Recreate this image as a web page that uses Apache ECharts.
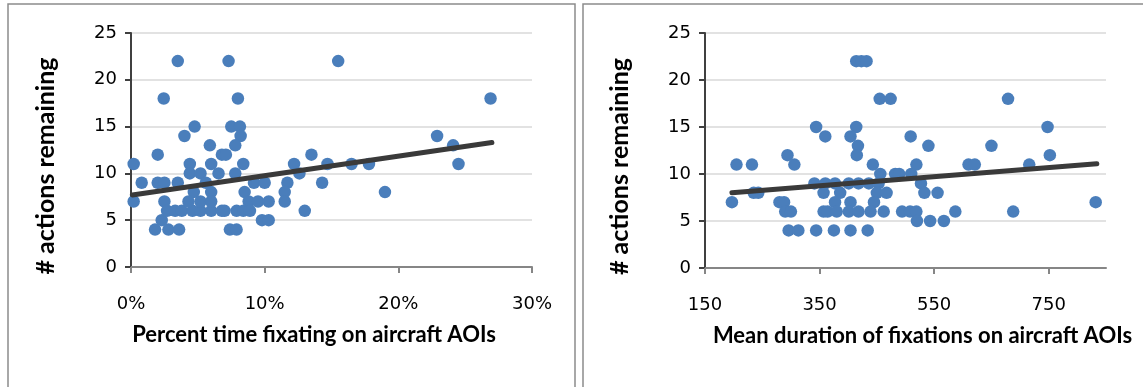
<!DOCTYPE html>
<html>
<head>
<meta charset="utf-8">
<script src="https://cdn.jsdelivr.net/npm/echarts@6/dist/echarts.min.js"></script>
<style>
html,body{margin:0;padding:0;background:#fff;}
#chart{width:1143px;height:387px;}
</style>
</head>
<body>
<div id="chart"></div>
<script>
// Left panel: percent time fixating on aircraft AOIs (%) vs # actions remaining
var pctPoints = [
  [0.2,11],[0.2,7],[0.8,9],[2.0,12],[2.0,9],[2.45,18],[2.5,9],[2.5,7],[2.3,5],
  [1.8,4],[2.8,4],[3.6,4],[2.7,6],[3.3,6],[3.8,6],[4.6,6],[5.2,6],[6.0,6],
  [3.5,22],[3.5,9],[4.0,14],[4.76,15],[4.4,11],[4.4,10],[5.2,10],[5.9,13],
  [6.0,11],[6.55,10],[5.6,9],[4.7,8],[6.0,8],[4.3,7],[5.2,7],[6.0,7],[6.8,12],
  [6.8,6],[7.3,22],[8.0,18],[7.5,15],[8.15,15],[8.2,14],[7.8,13],[7.1,12],
  [8.4,11],[7.8,10],[12.2,11],[13.5,12],[12.6,10],[9.2,9],[10.0,9],[11.7,9],
  [8.5,8],[11.5,8],[8.8,7],[9.5,7],[10.3,7],[11.5,7],[7.0,6],[7.9,6],[8.4,6],
  [8.9,6],[13.0,6],[9.8,5],[10.3,5],[7.4,4],[7.9,4],[15.5,22],[26.9,18],
  [22.9,14],[24.1,13],[24.5,11],[14.7,11],[16.5,11],[17.8,11],[14.3,9],[19.0,8]
];
var pctTrend = [[0.1,7.7],[27.0,13.3]];

// Right panel: mean duration of fixations on aircraft AOIs vs # actions remaining
var durPoints = [
  [414,22],[423,22],[432,22],
  [455,18],[474,18],[679,18],
  [344,15],[414,15],[748,15],
  [360,14],[404,14],[509,14],
  [417,13],[540,13],[650,13],
  [294,12],[415,12],[752,12],
  [205,11],[232,11],[306,11],[443,11],[519,11],[610,11],[621,11],[716,11],
  [456,10],[482,10],[489,10],[510,10],
  [341,9],[360,9],[377,9],[401,9],[418,9],[436,9],[453,9],[527,9],
  [235,8],[243,8],[357,8],[386,8],[450,8],[467,8],[533,8],[556,8],
  [197,7],[280,7],[288,7],[377,7],[404,7],[445,7],[832,7],
  [290,6],[300,6],[357,6],[364,6],[380,6],[401,6],[418,6],[439,6],[462,6],
  [494,6],[508,6],[519,6],[587,6],[688,6],
  [520,5],[543,5],[567,5],
  [296,4],[313,4],[344,4],[375,4],[404,4],[434,4]
];
var durTrend = [[197,8.0],[834,11.1]];

var yTicks = [0,5,10,15,20,25];
var pctTicks = [0,10,20,30];
var durTicks = [150,350,550,750];

var TICKFONT = 'DejaVu Sans';
var TITLEFONT = 'Lato';
var chart = echarts.init(document.getElementById('chart'));

function yAxisCfg(gridIndex){
  return {
    gridIndex: gridIndex, type:'value', min:0, max:25, interval:5,
    name:'# actions remaining', nameLocation:'middle', nameGap:73, nameRotate:90,
    nameTextStyle:{fontFamily:TITLEFONT, fontWeight:'bold', fontSize:25, color:'#000', padding:[0,32,0,0]},
    axisLine:{show:true, lineStyle:{color:'#404040', width:2}},
    axisTick:{show:true, length:6, lineStyle:{color:'#404040', width:2}},
    axisLabel:{fontFamily:TICKFONT, fontSize:18, color:'#000', margin:14},
    splitLine:{show:true, lineStyle:{color:'#d9d9d9', width:1.5}}
  };
}

chart.setOption({
  animation:false,
  backgroundColor:'#fff',
  graphic:[
    {type:'rect', shape:{x:8, y:4, width:567, height:420}, style:{fill:'none', stroke:'#8c8c8c', lineWidth:1.5}, silent:true},
    {type:'rect', shape:{x:583, y:4, width:600, height:420}, style:{fill:'none', stroke:'#8c8c8c', lineWidth:1.5}, silent:true}
  ],
  grid:[
    {left:131, top:33, width:401, height:234},
    {left:705, top:33, width:401, height:235}
  ],
  xAxis:[
    {
      gridIndex:0, type:'value', min:0, max:30, interval:10,
      name:'Percent time fixating on aircraft AOIs', nameLocation:'middle', nameGap:57,
      nameTextStyle:{fontFamily:TITLEFONT, fontWeight:'bold', fontSize:22, color:'#000', padding:[0,35,0,0]},
      axisLine:{show:true, lineStyle:{color:'#868686', width:2}},
      axisTick:{show:true, length:6, lineStyle:{color:'#868686', width:2}},
      axisLabel:{fontFamily:TICKFONT, fontSize:18, color:'#000', margin:28, formatter:'{value}%'},
      splitLine:{show:false}
    },
    {
      gridIndex:1, type:'value', min:150, max:850, interval:200,
      name:'Mean duration of fixations on aircraft AOIs', nameLocation:'middle', nameGap:57,
      nameTextStyle:{fontFamily:TITLEFONT, fontWeight:'bold', fontSize:22, color:'#000', padding:[0,0,0,34]},
      axisLine:{show:true, lineStyle:{color:'#868686', width:2}},
      axisTick:{show:true, length:6, lineStyle:{color:'#868686', width:2}, customValues:durTicks},
      axisLabel:{fontFamily:TICKFONT, fontSize:18, color:'#000', margin:28, customValues:durTicks},
      splitLine:{show:false}
    }
  ],
  yAxis:[yAxisCfg(0), yAxisCfg(1)],
  series:[
    {type:'scatter', xAxisIndex:0, yAxisIndex:0, data:pctPoints, symbolSize:12.5,
     itemStyle:{color:'#4a7ebb', opacity:1}, z:2},
    {type:'line', xAxisIndex:0, yAxisIndex:0, data:pctTrend, showSymbol:false, symbol:'none',
     lineStyle:{color:'#3a3a3a', width:5, cap:'round'}, z:3},
    {type:'scatter', xAxisIndex:1, yAxisIndex:1, data:durPoints, symbolSize:12.5,
     itemStyle:{color:'#4a7ebb', opacity:1}, z:2},
    {type:'line', xAxisIndex:1, yAxisIndex:1, data:durTrend, showSymbol:false, symbol:'none',
     lineStyle:{color:'#3a3a3a', width:5, cap:'round'}, z:3}
  ]
});
</script>
</body>
</html>
